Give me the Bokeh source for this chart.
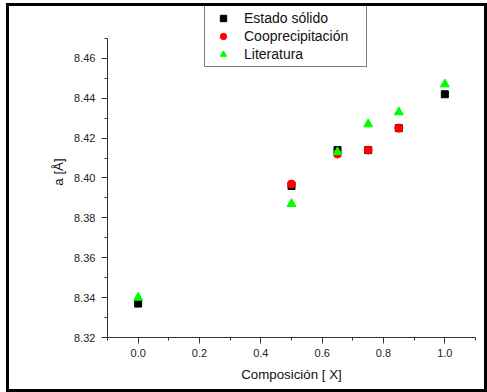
from bokeh.plotting import figure
from bokeh.embed import file_html
from bokeh.resources import INLINE
from bokeh.models import FixedTicker, PrintfTickFormatter, Range1d, Legend, LegendItem

# Data
x_solid = [0.0, 0.5, 0.65, 0.75, 0.85, 1.0]
a_solid = [8.337, 8.396, 8.414, 8.414, 8.425, 8.442]

x_coprec = [0.5, 0.65, 0.75, 0.85]
a_coprec = [8.397, 8.412, 8.414, 8.425]

x_lit = [0.0, 0.5, 0.65, 0.75, 0.85, 1.0]
a_lit = [8.340, 8.387, 8.413, 8.427, 8.433, 8.447]

x_ticks = [0.0, 0.2, 0.4, 0.6, 0.8, 1.0]
x_minor = [-0.1, 0.1, 0.3, 0.5, 0.7, 0.9, 1.1]
y_ticks = [8.32, 8.34, 8.36, 8.38, 8.40, 8.42, 8.44, 8.46]
y_minor = [8.33, 8.35, 8.37, 8.39, 8.41, 8.43, 8.45, 8.47]

series_names = ["Estado sólido", "Coopreciptación".replace("ciptación", "cipitación"), "Literatura"]

FONT = "Liberation Sans"

p = figure(width=481, height=389, output_backend="svg", toolbar_location=None,
           x_range=Range1d(-0.1, 1.1), y_range=Range1d(8.32, 8.486),
           min_border_left=98, min_border_right=15, min_border_top=0, min_border_bottom=58,
           styles={"margin-left": "6px", "margin-top": "3px", "border": "3px solid black"})

p.xgrid.visible = False
p.ygrid.visible = False
p.outline_line_color = None
p.background_fill_color = "white"
p.border_fill_color = "white"

for ax in (p.xaxis[0], p.yaxis[0]):
    ax.axis_line_color = "#333333"
    ax.major_tick_line_color = "#333333"
    ax.minor_tick_line_color = "#333333"
    ax.major_tick_in = 0
    ax.major_tick_out = 6
    ax.minor_tick_in = 0
    ax.minor_tick_out = 3
    ax.major_label_text_font = FONT
    ax.major_label_text_font_size = "11px"
    ax.major_label_text_color = "#222222"
    ax.axis_label_text_font = FONT
    ax.axis_label_text_font_size = "13.3px"
    ax.axis_label_text_font_style = "normal"
    ax.axis_label_text_color = "#111111"

p.yaxis[0].bounds = (8.32, 8.47)
p.xaxis[0].ticker = FixedTicker(ticks=x_ticks, minor_ticks=x_minor)
p.yaxis[0].ticker = FixedTicker(ticks=y_ticks, minor_ticks=y_minor)
p.xaxis[0].formatter = PrintfTickFormatter(format="%.1f")
p.yaxis[0].formatter = PrintfTickFormatter(format="%.2f")
p.xaxis[0].axis_label = "Composición [ X]"
p.yaxis[0].axis_label = "a [Å]"
p.xaxis[0].major_label_standoff = 5
p.yaxis[0].major_label_standoff = 6
p.xaxis[0].axis_label_standoff = 7
p.yaxis[0].axis_label_standoff = 5

r1 = p.scatter(x_solid, a_solid, marker="square", size=7, fill_color="black", line_color="black")
r2 = p.scatter(x_coprec, a_coprec, marker="circle", size=8, fill_color="red", line_color="red")
r3 = p.scatter(x_lit, a_lit, marker="triangle", size=9, fill_color="#00ff00", line_color="#00ff00")

legend = Legend(items=[LegendItem(label=series_names[0], renderers=[r1]),
                       LegendItem(label=series_names[1], renderers=[r2]),
                       LegendItem(label=series_names[2], renderers=[r3])],
                location=(97, 270), padding=4, spacing=2, margin=0,
                glyph_width=28, glyph_height=16, label_height=16, label_width=118,
                label_standoff=7, label_text_font=FONT, label_text_font_size="14px",
                label_text_color="#111111",
                border_line_color="black", border_line_width=1.2,
                background_fill_color="white", background_fill_alpha=1.0)
p.add_layout(legend, "center")

open("out.html", "w").write(file_html(p, INLINE))
